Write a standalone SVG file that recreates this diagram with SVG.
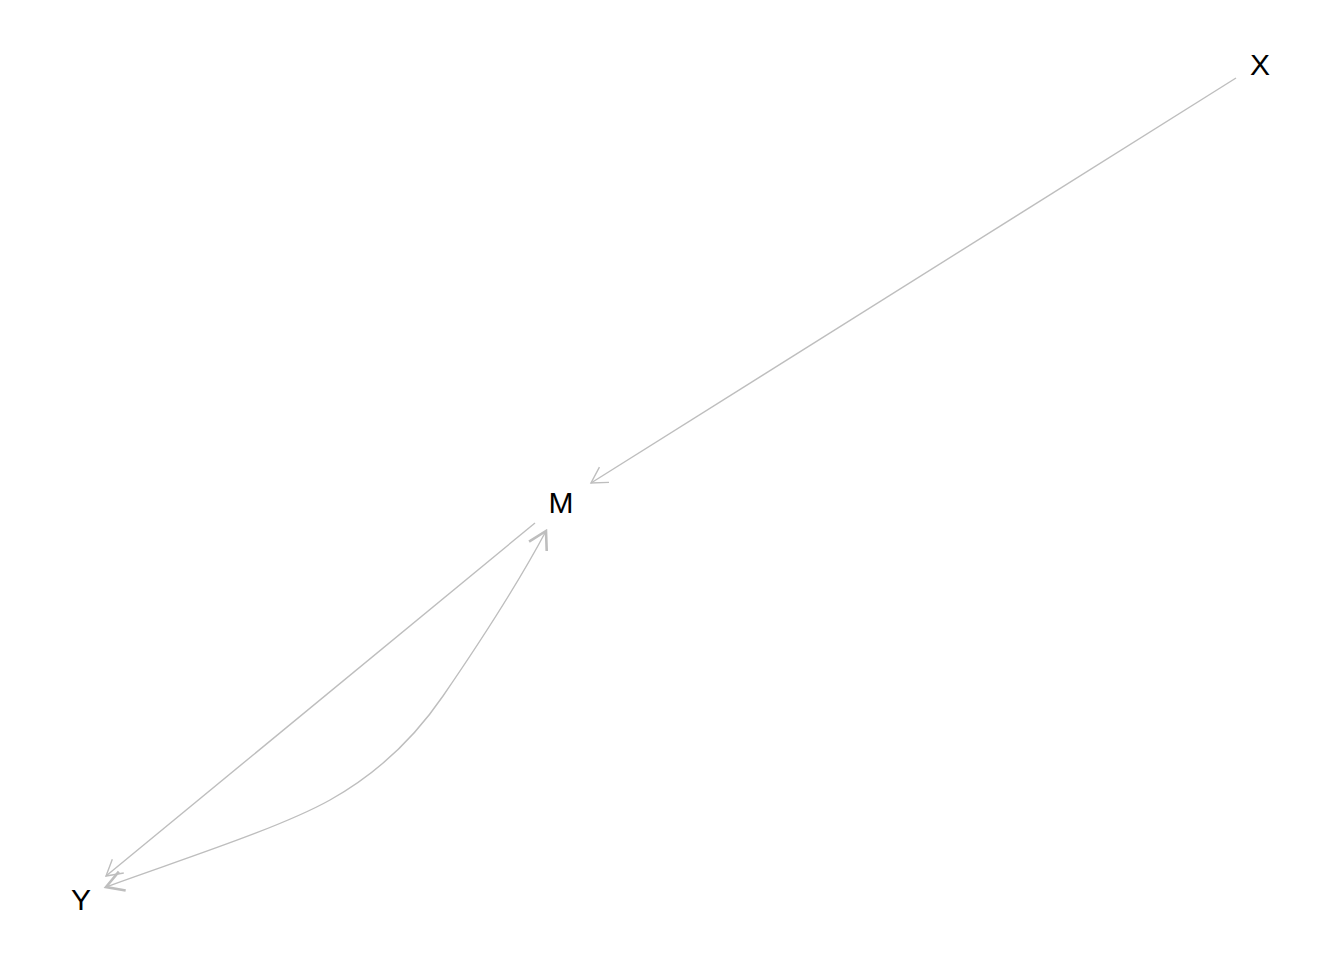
<svg xmlns="http://www.w3.org/2000/svg" width="1344" height="960" viewBox="0 0 1344 960">
<style>
.lbl{font-family:"Liberation Sans",Arial,sans-serif;font-size:30px;fill:#000;text-anchor:middle;dominant-baseline:central}
.e{fill:none;stroke:#bebebe;stroke-width:1.4}
</style>
<defs>
<marker id="a" viewBox="-1 -1 20 22" refX="16.6" refY="10" markerWidth="20" markerHeight="22" markerUnits="userSpaceOnUse" orient="auto-start-reverse">
<path d="M1,1 L16.6,10 L1,19" fill="none" stroke="#bebebe" stroke-width="1.4"/>
</marker>
<marker id="b" viewBox="-2 -2 22 24" refX="17.3" refY="10" markerWidth="22" markerHeight="24" markerUnits="userSpaceOnUse" orient="auto-start-reverse">
<path d="M0,0 L17.3,10 L0,20" fill="none" stroke="#bebebe" stroke-width="2.6"/>
</marker>
</defs>
<g id="connectors">
<path class="e" d="M1236,78 L591,483" marker-end="url(#a)"/>
<path class="e" d="M535,523 L106,876" marker-end="url(#a)"/>
<path class="e" d="M106,887 C180,860 280,828 330,800 C380,772 415,737 443,696 C478,645 520,580 546,531" marker-start="url(#b)" marker-end="url(#b)"/>
</g>
<g id="node-X"><text class="lbl" x="1260" y="64">X</text></g>
<g id="node-M"><text class="lbl" x="561" y="502">M</text></g>
<g id="node-Y"><text class="lbl" x="81" y="899">Y</text></g>
</svg>
